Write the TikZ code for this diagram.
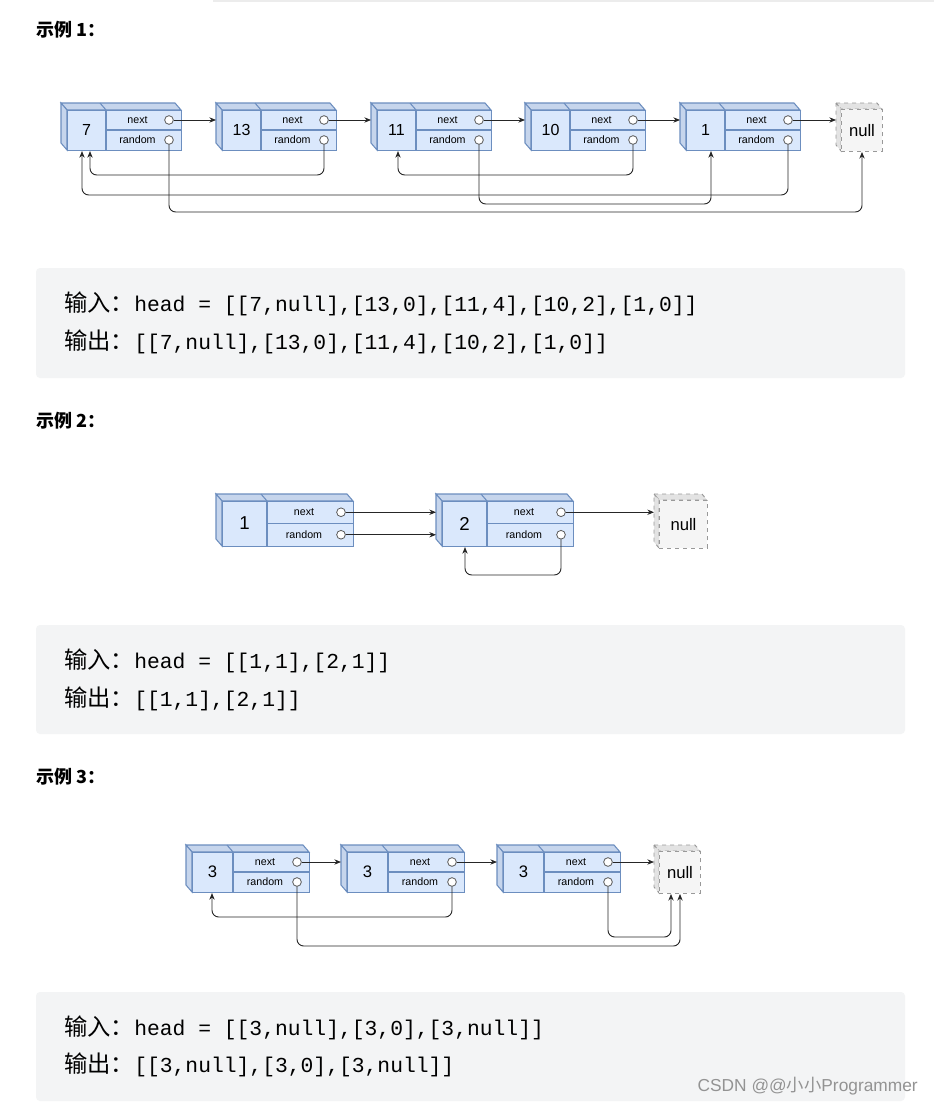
\documentclass[tikz,border=0pt]{standalone}
\usepackage{fontspec}
\setmainfont{Liberation Sans}
\setmonofont{Liberation Mono}
\newfontfamily\cjk{Noto Sans CJK SC}
\usetikzlibrary{arrows.meta}
\definecolor{nfill}{HTML}{DAE8FC}
\definecolor{nline}{HTML}{6C8EBF}
\definecolor{nside}{HTML}{C6D5EC}
\definecolor{boxbg}{HTML}{F3F4F5}
\tikzset{
  front/.style={draw=nline,fill=nfill,rectangle,inner sep=0pt,line width=0.8pt},
  side/.style={draw=nline,fill=nside,line width=0.8pt},
  nullf/.style={draw=gray!80,fill=gray!8,dashed,rectangle,inner sep=0pt,line width=0.7pt},
  nulls/.style={draw=gray!80,fill=gray!22,dashed,line width=0.7pt},
  port/.style={circle,draw=gray!70!black,fill=white,minimum size=6.5pt,inner sep=0pt,line width=0.6pt},
  arr/.style={-{Stealth[length=5pt,width=4pt]},line width=0.7pt,black!85,rounded corners=5pt},
  lbl/.style={font=\fontsize{8}{8}\selectfont,inner sep=0pt},
  code/.style={anchor=west,inner sep=0pt,font=\fontsize{16}{16}\selectfont},
  head/.style={anchor=west,inner sep=0pt,font=\cjk\bfseries\fontsize{13.5}{14}\selectfont},
}
% name, x, y (front top-left), w, h, value width, value, value font size
\newcommand\LNode[8]{%
  \pgfmathsetmacro\RR{#2+#4}\pgfmathsetmacro\BB{#3+#5}%
  \pgfmathsetmacro\MM{#3+#5/2}\pgfmathsetmacro\VV{#2+#6}%
  \filldraw[side] ({#2-6},{#3-7}) -- ({\RR-6},{#3-7}) -- (\RR,#3) -- (#2,#3) -- cycle;
  \filldraw[side] ({#2-6},{#3-7}) -- (#2,#3) -- (#2,\BB) -- ({#2-6},{\BB-7}) -- cycle;
  \draw[nline,line width=0.8pt] (\VV,#3) -- ({\VV-6},{#3-7});
  \node[front,minimum width=#4*0.75pt,minimum height=#5*0.75pt,anchor=north west] (#1) at (#2,#3) {};
  \draw[nline,line width=0.8pt] (\VV,#3) -- (\VV,\BB) (\VV,\MM) -- (\RR,\MM);
  \node[inner sep=0pt,font=\fontsize{#8}{#8}\selectfont] (#1-v) at ({(#2+\VV)/2},\MM) {#7};
  \node[lbl] (#1-nl) at ({(\VV+\RR)/2-6},{(#3+\MM)/2}) {next};
  \node[lbl] (#1-rl) at ({(\VV+\RR)/2-6},{(\BB+\MM)/2}) {random};
  \node[port] (#1-n) at ({\RR-12},{(#3+\MM)/2}) {};
  \node[port] (#1-r) at ({\RR-12},{(\BB+\MM)/2}) {};
}
% name, x, y, w, h
\newcommand\NullNode[5]{%
  \pgfmathsetmacro\RR{#2+#4}\pgfmathsetmacro\BB{#3+#5}%
  \filldraw[nulls] ({#2-5},{#3-6}) -- ({\RR-5},{#3-6}) -- (\RR,#3) -- (#2,#3) -- cycle;
  \filldraw[nulls] ({#2-5},{#3-6}) -- (#2,#3) -- (#2,\BB) -- ({#2-5},{\BB-6}) -- cycle;
  \node[nullf,minimum width=#4*0.75pt,minimum height=#5*0.75pt,anchor=north west,font=\fontsize{12.5}{13}\selectfont] (#1) at (#2,#3) {null};
}
\newcommand\CJKin[1]{{\cjk\fontsize{17.5}{17.5}\selectfont #1}}
\begin{document}
\begin{tikzpicture}[x=0.75pt,y=-0.75pt]
\useasboundingbox (0,0) rectangle (934,1106);
\fill[white] (0,0) rectangle (934,1106);
\draw[gray!15,line width=1pt] (213,1) -- (934,1);
% ===== Example 1
\node[head] (h1) at (36,30) {示例 1：};
\LNode{a1}{67}{110}{114}{40}{39}{7}{12}
\LNode{a2}{222}{110}{114}{40}{39}{13}{12}
\LNode{a3}{377}{110}{114}{40}{39}{11}{12}
\LNode{a4}{531}{110}{114}{40}{39}{10}{12}
\LNode{a5}{686}{110}{114}{40}{39}{1}{12}
\NullNode{an}{841}{109}{41}{42}
\draw[arr] (a1-n) -- ([xshift=-4.5pt]a2.west |- a1-n);
\draw[arr] (a2-n) -- ([xshift=-4.5pt]a3.west |- a2-n);
\draw[arr] (a3-n) -- ([xshift=-4.5pt]a4.west |- a3-n);
\draw[arr] (a4-n) -- ([xshift=-4.5pt]a5.west |- a4-n);
\draw[arr] (a5-n) -- ([xshift=-3.75pt]an.west |- a5-n);
\draw[arr] (a2-r.south) |- (90,175) -- (a1.south -| 90,175);
\draw[arr] (a4-r.south) |- (398,175) -- (a3.south -| 398,175);
\draw[arr] (a5-r.south) |- (82,195) -- (a1.south -| 82,195);
\draw[arr] (a3-r.south) |- (711,204) -- (a5.south -| 711,204);
\draw[arr] (a1-r.south) |- (862,212) -- (an.south -| 862,212);
\fill[boxbg,rounded corners=3pt] (36,268) rectangle (905,378);
\node[code] (c1a) at (64,304) {\CJKin{输入：}\texttt{head = [[7,null],[13,0],[11,4],[10,2],[1,0]]}};
\node[code] (c1b) at (64,342) {\CJKin{输出：}\texttt{[[7,null],[13,0],[11,4],[10,2],[1,0]]}};
% ===== Example 2
\node[head] (h2) at (36,421) {示例 2：};
\LNode{b1}{222}{501}{131}{45}{45}{1}{14}
\LNode{b2}{442}{501}{131}{45}{45}{2}{14}
\NullNode{bn}{659}{500}{48}{48}
\draw[arr] (b1-n) -- ([xshift=-4.5pt]b2.west |- b1-n);
\draw[arr] (b1-r) -- ([xshift=-4.5pt]b2.west |- b1-r);
\draw[arr] (b2-n) -- ([xshift=-3.75pt]bn.west |- b2-n);
\draw[arr] (b2-r.south) |- (465,575) -- (b2.south -| 465,575);
\fill[boxbg,rounded corners=3pt] (36,625) rectangle (905,734);
\node[code] (c2a) at (64,661) {\CJKin{输入：}\texttt{head = [[1,1],[2,1]]}};
\node[code] (c2b) at (64,699) {\CJKin{输出：}\texttt{[[1,1],[2,1]]}};
% ===== Example 3
\node[head] (h3) at (36,777) {示例 3：};
\LNode{c1}{192}{852}{117}{40}{41}{3}{12.5}
\LNode{c2}{347}{852}{117}{40}{41}{3}{12.5}
\LNode{c3}{503}{852}{117}{40}{41}{3}{12.5}
\NullNode{cn}{659}{851}{41}{42}
\draw[arr] (c1-n) -- ([xshift=-4.5pt]c2.west |- c1-n);
\draw[arr] (c2-n) -- ([xshift=-4.5pt]c3.west |- c2-n);
\draw[arr] (c3-n) -- ([xshift=-3.75pt]cn.west |- c3-n);
\draw[arr] (c2-r.south) |- (212,917) -- (c1.south -| 212,917);
\draw[arr] (c3-r.south) |- (671,937) -- (cn.south -| 671,937);
\draw[arr] (c1-r.south) |- (680,946) -- (cn.south -| 680,946);
\fill[boxbg,rounded corners=3pt] (36,992) rectangle (905,1101);
\node[code] (c3a) at (64,1028) {\CJKin{输入：}\texttt{head = [[3,null],[3,0],[3,null]]}};
\node[code] (c3b) at (64,1065) {\CJKin{输出：}\texttt{[[3,null],[3,0],[3,null]]}};
\node[anchor=east,inner sep=0pt,text=gray!85,font=\fontsize{13}{13}\selectfont] (wm) at (918,1086) {CSDN @@{\cjk 小小}Programmer};
\end{tikzpicture}
\end{document}
